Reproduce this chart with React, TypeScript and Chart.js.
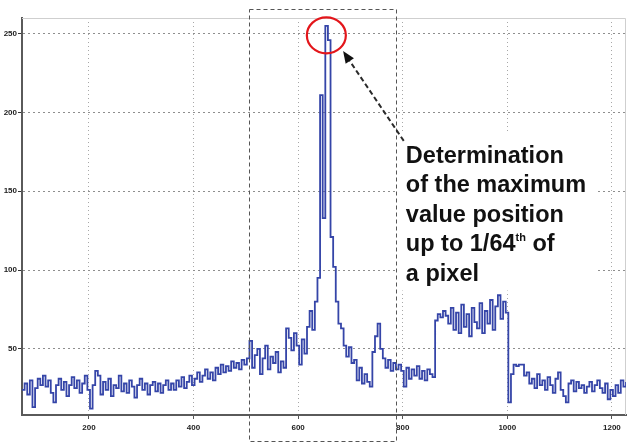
import React, { useEffect, useRef } from 'react';
import { Chart, registerables } from 'chart.js';

Chart.register(...registerables);

// ---- data (sample position = segment start + index * sampleStep) ----
const sampleStep = 5;
const baselineStart = 72;
const baselineValues = [24, 28, 21, 30, 13, 25, 31, 27, 33, 26, 30, 22, 16, 27, 31, 24, 29, 20, 27, 32, 25, 30, 22, 28, 33, 24, 12, 27, 36, 33, 21, 29, 24, 31, 20, 27, 25, 33, 23, 28, 22, 30, 26, 19, 27, 31, 24, 28, 21, 27, 29, 23, 28, 22, 27, 30, 24];
const riseStart = 357;
const riseValues = [28, 24, 30, 26, 32, 25, 29, 33, 27, 31, 35, 29, 33, 37, 31, 35, 30, 38, 34, 40, 35, 39, 36, 42, 38, 41, 37, 43, 40, 44, 55, 38];
const peakStart = 517;
const peakValues = [46, 50, 34, 44, 52, 37, 45, 41, 48, 35, 42, 38, 63, 57, 49, 60, 52, 40, 56, 47, 64, 74, 62, 80, 95, 211, 133, 255, 246, 121, 102, 80, 66, 63, 52, 45, 51, 41, 43, 30, 38, 28, 34, 29, 26, 48, 58, 66, 50, 44, 38, 43, 36, 41, 37];
const valleyStart = 792;
const valleyValues = [40, 36, 26, 38, 31, 37, 33, 39, 31, 36, 30, 37, 34, 32];
const plateauStart = 862;
const plateauValues = [68, 72, 70, 74, 71, 66, 76, 62, 73, 60, 78, 64, 72, 58, 76, 67, 63, 79, 60, 74, 66, 81, 62, 77, 84, 69, 80, 73];
const tailStart = 1002;
const tailValues = [16, 34, 40, 39, 40, 40, 33, 35, 28, 31, 25, 34, 27, 30, 24, 32, 27, 22, 31, 35, 24, 20, 16, 28, 30, 23, 29, 25, 27, 22, 26, 29, 23, 27, 30, 25, 22, 28, 18, 24, 20, 27, 22, 30, 26, 29];

const xTicks = [200, 400, 600, 800, 1000, 1200];
const yTicks = [50, 100, 150, 200, 250];
const xMin = 72;
const xMax = 1227;
const yMin = 8;
const yMax = 260;

// annotation anchors (data coordinates)
const boxXFrom = 506;
const boxXTo = 787;
const peakMarker = { x: 654, y: 249 };
const arrowTail = { x: 802, y: 182 };
const arrowTip = { x: 686, y: 239 };
const textAnchor = { x: 806, y: 168 };
const textBg = { x1: 791, x2: 1171, y1: 187, y2: 87 };
const noteLines: Array<Array<[string, boolean]>> = [
  [['Determination', false]],
  [['of the maximum', false]],
  [['value position', false]],
  [['up to 1/64', false], ['th', true], [' of', false]],
  [['a pixel', false]],
];

const segments: Array<[number, number[]]> = [
  [baselineStart, baselineValues],
  [riseStart, riseValues],
  [peakStart, peakValues],
  [valleyStart, valleyValues],
  [plateauStart, plateauValues],
  [tailStart, tailValues],
];

function buildPoints() {
  const pts: { x: number; y: number }[] = [];
  segments.forEach(([start, vals]) => {
    vals.forEach((v, i) => pts.push({ x: start + i * sampleStep, y: v }));
  });
  return pts;
}

const annotationPlugin = {
  id: 'annot',
  beforeDatasetsDraw(chart: any) {
    const { ctx, chartArea } = chart;
    ctx.save();
    ctx.strokeStyle = '#cfcfcf';
    ctx.lineWidth = 1;
    ctx.beginPath();
    ctx.moveTo(chartArea.left, chartArea.top + 0.5);
    ctx.lineTo(chartArea.right - 0.5, chartArea.top + 0.5);
    ctx.lineTo(chartArea.right - 0.5, chartArea.bottom);
    ctx.stroke();
    ctx.restore();
  },
  afterDatasetsDraw(chart: any) {
    const { ctx, chartArea } = chart;
    const xs = chart.scales.x;
    const ys = chart.scales.y;
    const px = (v: number) => xs.getPixelForValue(v);
    const py = (v: number) => ys.getPixelForValue(v);
    ctx.save();

    // white background behind note
    ctx.fillStyle = '#ffffff';
    ctx.fillRect(px(textBg.x1), py(textBg.y1), px(textBg.x2) - px(textBg.x1), py(textBg.y2) - py(textBg.y1));

    // dashed region box
    ctx.strokeStyle = '#555';
    ctx.lineWidth = 1;
    ctx.setLineDash([4, 3]);
    const bx1 = Math.round(px(boxXFrom)) + 0.5;
    const bx2 = Math.round(px(boxXTo)) + 0.5;
    const by1 = chartArea.top - 8.5;
    const by2 = chart.height - 3.5;
    ctx.strokeRect(bx1, by1, bx2 - bx1, by2 - by1);
    ctx.setLineDash([]);

    // note text
    ctx.fillStyle = '#111';
    ctx.textBaseline = 'alphabetic';
    ctx.textAlign = 'left';
    const tx = px(textAnchor.x);
    let ty = py(textAnchor.y);
    noteLines.forEach((parts) => {
      let cx = tx;
      parts.forEach(([s, sup]) => {
        ctx.font = sup ? 'bold 11px "Liberation Sans", Arial, sans-serif' : 'bold 23.5px "Liberation Sans", Arial, sans-serif';
        ctx.fillText(s, cx, sup ? ty - 10 : ty);
        cx += ctx.measureText(s).width;
      });
      ty += 29.5;
    });

    // arrow
    const ax1 = px(arrowTail.x), ay1 = py(arrowTail.y);
    const ax2 = px(arrowTip.x), ay2 = py(arrowTip.y);
    const ang = Math.atan2(ay2 - ay1, ax2 - ax1);
    const headLen = 12;
    const hbx = ax2 - headLen * Math.cos(ang);
    const hby = ay2 - headLen * Math.sin(ang);
    ctx.strokeStyle = '#2a2a2a';
    ctx.lineWidth = 2;
    ctx.setLineDash([5, 3]);
    ctx.beginPath();
    ctx.moveTo(ax1, ay1);
    ctx.lineTo(hbx, hby);
    ctx.stroke();
    ctx.setLineDash([]);
    ctx.fillStyle = '#111';
    ctx.beginPath();
    ctx.moveTo(ax2, ay2);
    ctx.lineTo(hbx + 5 * Math.sin(ang), hby - 5 * Math.cos(ang));
    ctx.lineTo(hbx - 5 * Math.sin(ang), hby + 5 * Math.cos(ang));
    ctx.closePath();
    ctx.fill();

    // red circle around the maximum
    ctx.strokeStyle = '#e3161b';
    ctx.lineWidth = 2.2;
    ctx.beginPath();
    ctx.ellipse(px(peakMarker.x), py(peakMarker.y), 19.5, 18, 0, 0, Math.PI * 2);
    ctx.stroke();

    ctx.restore();
  },
};

export default function App() {
  const canvasRef = useRef<HTMLCanvasElement | null>(null);

  useEffect(() => {
    if (!canvasRef.current) return;
    const chart = new Chart(canvasRef.current, {
      type: 'line',
      data: {
        datasets: [
          {
            data: buildPoints(),
            borderColor: '#3545a8',
            borderWidth: 1.8,
            pointRadius: 0,
            stepped: true,
            fill: false,
          },
        ],
      },
      options: {
        responsive: false,
        animation: false,
        devicePixelRatio: 1,
        layout: { padding: { top: 18, right: 2, left: 0, bottom: 0 } },
        plugins: { legend: { display: false }, tooltip: { enabled: false } },
        scales: {
          x: {
            type: 'linear',
            min: xMin,
            max: xMax,
            afterBuildTicks: (s: any) => {
              s.ticks = xTicks.map((v) => ({ value: v }));
            },
            afterFit: (s: any) => {
              s.height = 30;
            },
            ticks: {
              font: { family: '"Liberation Sans", Arial, sans-serif', size: 8, weight: 'bold' },
              color: '#222',
              padding: 4,
              maxRotation: 0,
              callback: (v: any) => String(v),
            },
            grid: { color: '#a8a8a8', lineWidth: 1, tickLength: 4, tickColor: '#555' },
            border: { display: true, color: '#5a5a5a', width: 2, dash: [1, 3] },
          },
          y: {
            type: 'linear',
            min: yMin,
            max: yMax,
            afterBuildTicks: (s: any) => {
              s.ticks = yTicks.map((v) => ({ value: v }));
            },
            afterFit: (s: any) => {
              s.width = 22;
            },
            ticks: {
              font: { family: '"Liberation Sans", Arial, sans-serif', size: 8, weight: 'bold' },
              color: '#222',
              padding: 1,
              callback: (v: any) => String(v),
            },
            grid: { color: '#8e8e8e', lineWidth: 1, tickLength: 4, tickColor: '#333' },
            border: { display: true, color: '#5a5a5a', width: 2, dash: [2, 3] },
          },
        },
      },
      plugins: [annotationPlugin],
    });
    return () => chart.destroy();
  }, []);

  return (
    <div style={{ position: 'fixed', left: 0, top: 0, width: 628, height: 445, background: '#fff' }}>
      <canvas ref={canvasRef} width={628} height={445} />
    </div>
  );
}
